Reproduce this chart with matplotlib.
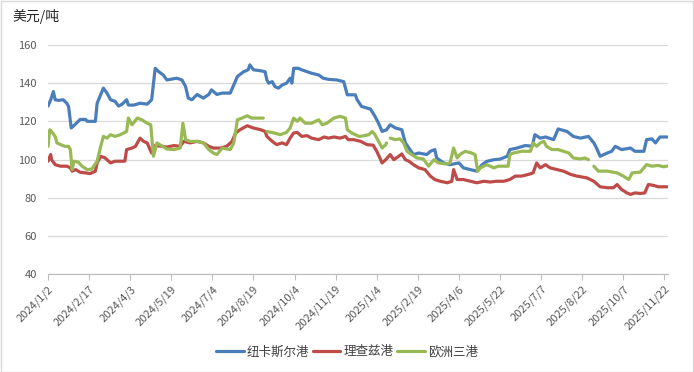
import numpy as np
import pandas as pd
import matplotlib
matplotlib.use("Agg")
import matplotlib.pyplot as plt
import matplotlib.dates as mdates
from matplotlib.patches import Rectangle

plt.rcParams['font.family'] = ['Noto Sans CJK SC', 'DejaVu Sans']

nan = np.nan
start_date = "2024-01-02"
series_names = ["纽卡斯尔港", "理查兹港", "欧洲三港"]
unit_label = "美元/吨"
tick_labels = ["2024/1/2", "2024/2/17", "2024/4/3", "2024/5/19", "2024/7/4", "2024/8/19",
               "2024/10/4", "2024/11/19", "2025/1/4", "2025/2/19", "2025/4/6", "2025/5/22",
               "2025/7/7", "2025/8/22", "2025/10/7", "2025/11/22"]

# days since 2024-01-02
blue_days = [0, 3, 6, 8, 12, 17, 21, 23, 26, 30,
             36, 42, 44, 53, 55, 62, 66, 70, 75, 79,
             83, 88, 90, 96, 103, 111, 116, 120, 124, 129,
             133, 137, 144, 150, 154, 157, 161, 167, 170, 174,
             180, 183, 189, 195, 204, 208, 212, 219, 224, 226,
             230, 238, 243, 245, 247, 251, 254, 258, 262, 267,
             271, 273, 275, 280, 284, 290, 295, 303, 308, 314,
             323, 331, 335, 344, 346, 351, 361, 366, 370, 374,
             379, 383, 389, 396, 400, 404, 409, 415, 424, 428,
             433, 435, 443, 450, 460, 465, 473, 480, 486, 491,
             499, 506, 514, 517, 525, 534, 542, 545, 551, 557,
             566, 571, 581, 588, 596, 605, 611, 614, 618, 626,
             631, 635, 642, 652, 657, 667, 670, 676, 680, 685,
             693]
blue_vals = [128, 131.3, 135.6, 131.3, 131, 131.3, 129.5, 127.8, 116.5, 118.2,
             121, 121, 120, 120, 129.5, 137.4, 134.8, 131.3, 130.5, 128,
             129, 131.3, 128.5, 128.5, 129.5, 129, 131.3, 147.8, 146, 144.3,
             141.7, 142, 142.6, 141.7, 138.2, 132.2, 131.3, 134.1, 133.2, 132.2,
             134.1, 136.5, 134.1, 134.8, 134.8, 139.1, 143.5, 146, 147, 149.6,
             147, 146.5, 146, 141.7, 140, 140.8, 138.2, 137.4, 139, 140,
             142.6, 140, 147.8, 147.8, 147, 146, 145.2, 144.3, 142.6, 142,
             141.7, 140.8, 133.9, 133.9, 131.3, 127.8, 126.4, 122.6, 119, 114.7,
             115.6, 118.2, 116.5, 115.6, 108.7, 106, 102.6, 103.4, 102.6, 104.3,
             105.2, 100.8, 98.2, 97.3, 98.2, 95.6, 94.7, 93.9, 97.3, 99,
             99.9, 100.2, 101.7, 105.2, 106, 107.3, 107, 113, 111.2, 111.8,
             110.4, 116, 114.7, 112.1, 111.2, 112.1, 108.7, 106, 101.7, 103.4,
             104.3, 106.9, 105.2, 106, 104.3, 104.3, 110.4, 110.8, 108.7, 111.8,
             111.8]

red_days = [0, 3, 4, 8, 14, 21, 25, 27, 31, 36,
            42, 47, 53, 55, 59, 64, 70, 75, 81, 86,
            88, 94, 98, 100, 103, 107, 111, 116, 120, 128,
            133, 141, 148, 152, 159, 167, 174, 180, 185, 193,
            200, 206, 210, 215, 223, 230, 238, 243, 245, 251,
            256, 262, 267, 271, 275, 279, 284, 290, 295, 303,
            309, 314, 320, 327, 333, 336, 342, 350, 357, 364,
            368, 374, 378, 383, 387, 392, 396, 400, 404, 409,
            415, 422, 428, 433, 439, 447, 452, 454, 458, 465,
            473, 480, 488, 495, 502, 510, 517, 523, 530, 538,
            543, 547, 551, 557, 562, 570, 577, 585, 592, 603,
            611, 618, 626, 633, 637, 642, 648, 652, 657, 663,
            668, 672, 678, 683, 693]
red_vals = [99.1, 102.6, 99.9, 97.3, 96.5, 96.5, 95.6, 93.9, 94.7, 93.3,
            93, 92.6, 93.9, 98.2, 101.7, 100.8, 98.2, 99.1, 99.1, 99.1,
            105.2, 106, 106.9, 108.7, 111.2, 109.5, 108.7, 103.4, 107.3, 106.9,
            106.5, 107.3, 106.9, 109.5, 108.7, 109.5, 108.7, 106.9, 106, 106,
            106.9, 109.5, 113.9, 115.6, 117.7, 116.5, 115.6, 114.7, 112.1, 109.5,
            107.8, 108.7, 107.8, 111.2, 113.9, 114.2, 112.1, 112.5, 111.2, 110.4,
            111.8, 111.2, 111.8, 111.2, 112.1, 110.4, 110.4, 109.5, 107.8, 107.5,
            104.3, 98.2, 99.9, 102.6, 99.9, 101.5, 102.9, 99.9, 99.1, 97.3,
            95.6, 94.7, 91.3, 89.5, 88.6, 87.8, 88.6, 94.7, 89.5, 89.5,
            88.6, 87.8, 88.6, 88.2, 88.6, 88.6, 89.5, 91.3, 91.3, 92.2,
            93, 98.2, 95.6, 97.3, 95.6, 94.7, 93.9, 92.2, 91.3, 90.4,
            88.6, 85.7, 85.2, 85.2, 86.9, 84.3, 82.5, 81.7, 82.5, 82.2,
            82.5, 86.9, 86.4, 85.7, 85.7]

green_days = [0, 2, 4, 8, 10, 14, 19, 23, 25, 27,
              29, 34, 38, 44, 49, 55, 59, 62, 66, 70,
              75, 81, 88, 90, 94, 100, 105, 111, 115, 118,
              122, 128, 133, 141, 148, 151, 154, 159, 167, 174,
              180, 185, 189, 195, 204, 208, 212, 217, 223, 228,
              234, 241, 243, 245, 253, 260, 267, 271, 275, 279,
              282, 288, 295, 303, 307, 312, 320, 327, 333, 335,
              340, 348, 353, 359, 363, 366, 370, 374, 378, 379,
              381, 383, 389, 394, 398, 402, 407, 413, 420, 426,
              432, 437, 445, 450, 454, 458, 461, 467, 474, 478,
              481, 484, 491, 495, 499, 504, 510, 515, 517, 521,
              530, 540, 543, 547, 551, 555, 558, 564, 571, 577,
              583, 588, 596, 601, 605, 608, 611, 616, 626, 637,
              644, 650, 654, 663, 670, 676, 683, 689, 693]
green_vals = [106.9, 115.6, 114.7, 112.1, 108.7, 107.8, 106.9, 106.9, 105.2, 94.7,
              99.1, 98.6, 96.5, 94.7, 95, 99.1, 106.9, 112.1, 111.2, 113,
              112.1, 113, 114.7, 121.7, 118.2, 121.7, 120.8, 119, 118.2, 101.7,
              108.7, 106.9, 105.5, 105.2, 106, 119, 110.4, 109.5, 109.5, 108.7,
              105.2, 103.4, 102.6, 106, 105.2, 108.7, 120.8, 121.7, 122.9, 121.7,
              121.7, 121.7, nan, 114.7, 113.9, 113, 114.2, 116.5, 121.7, 120,
              121.7, 119, 119, 120.8, 118.2, 119, 121.7, 122.6, 121.7, 115.6,
              113.9, 112.1, 112.4, 113, 114.7, 113, 109.5, 106, 107.8, 108.7,
              nan, 111.2, 110.4, 110.8, 108.7, 104.3, 102.6, 100.8, 100.3, 96.5,
              99.9, 98.2, 97.7, 98.2, 106, 100.8, 102.6, 104.3, 103.4, 102.6,
              93.9, 95.6, 97.3, 96.5, 95.6, 96.5, 96.5, 96.5, 102.6, 103.4,
              104.3, 104.3, 108.7, 106.9, 108.7, 109.5, 106.9, 105.2, 105.2, 104.3,
              103.4, 100.8, 100.3, 100.8, 99.9, nan, 96.5, 93.9, 93.9, 93,
              91.3, 89.5, 93, 93.4, 97.3, 96.5, 96.9, 96.2, 96.5]

colors = ["#4A7EBB", "#BE4B48", "#98B954"]

t0 = pd.Timestamp(start_date)
def to_dates(days):
    return t0 + pd.to_timedelta(days, unit="D")

fig = plt.figure(figsize=(6.94, 3.72), dpi=100)
fig.patches.append(Rectangle((0.001, 0.001), 0.997, 0.996, transform=fig.transFigure,
                             fill=False, edgecolor="#D9D9D9", linewidth=1.0))
ax = fig.add_axes([48 / 694, 1 - 274 / 372, (668 - 48) / 694, (274 - 45) / 372])

for days, vals, c, name in zip([blue_days, red_days, green_days],
                               [blue_vals, red_vals, green_vals], colors, series_names):
    ax.plot(to_dates(days), vals, color=c, lw=2.3, label=name,
            solid_joinstyle="round", solid_capstyle="round")

ax.set_ylim(40, 160)
ax.set_yticks(np.arange(40, 161, 20))
ax.set_xlim(t0, t0 + pd.Timedelta(days=694))
tick_dates = pd.to_datetime(tick_labels, format="%Y/%m/%d")
ax.set_xticks(tick_dates)
ax.set_xticklabels(tick_labels, rotation=45, ha="right", va="top",
                   rotation_mode="anchor", fontsize=8, color="#595959")
ax.tick_params(axis="x", length=4, width=0.8, color="#BFBFBF", pad=3)
ax.tick_params(axis="y", length=0, labelsize=8, labelcolor="#595959", pad=8)
ax.grid(axis="y", color="#D9D9D9", lw=0.9)
ax.set_axisbelow(True)
for s in ["top", "right", "left"]:
    ax.spines[s].set_visible(False)
ax.spines["bottom"].set_color("#BFBFBF")
ax.spines["bottom"].set_linewidth(0.9)

fig.text(12 / 694, 1 - 16 / 372, unit_label, fontsize=10, color="#262626",
         ha="left", va="center")

fig.legend(loc="center", bbox_to_anchor=(0.5, 1 - 352 / 372), ncol=3, frameon=False,
           fontsize=9, handlelength=2.2, handletextpad=0.25, columnspacing=0.3,
           labelcolor="#404040")

fig.savefig("out.png", dpi=100)
